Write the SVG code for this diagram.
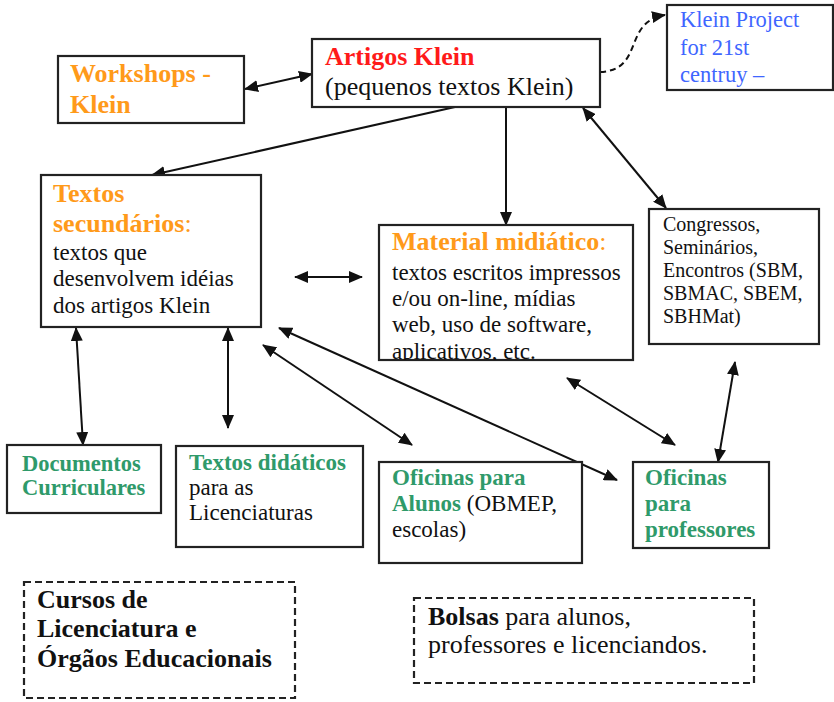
<svg xmlns="http://www.w3.org/2000/svg" width="834" height="702" viewBox="0 0 834 702">
<style>
.box{fill:#fff;stroke:#222;stroke-width:2.2}
.dbox{fill:#fff;stroke:#222;stroke-width:2.2;stroke-dasharray:7,4}
text{font-family:"Liberation Serif","Times New Roman",serif;fill:#111}
.h{font-size:26px;font-weight:bold}
.b{font-size:23px}
.s{font-size:20px}
.or{fill:#ff9a1a}
.red{fill:#ff1a1a}
.gr{fill:#2f9a6a;font-weight:bold}
.bl{fill:#3f66ff;font-size:22.5px}
.c{stroke:#111;stroke-width:2;fill:none}
</style>
<defs>
<marker id="ah" markerUnits="userSpaceOnUse" markerWidth="14" markerHeight="12" refX="13" refY="6" orient="auto-start-reverse">
<path d="M0,0 L14,6 L0,12 z" fill="#111"/>
</marker>
<clipPath id="mclip"><rect x="379" y="225" width="254" height="135"/></clipPath>
</defs>

<g id="connectors">
<line class="c" x1="245" y1="89" x2="312" y2="74" marker-start="url(#ah)" marker-end="url(#ah)"/>
<line class="c" x1="455" y1="107" x2="152" y2="175" marker-end="url(#ah)"/>
<line class="c" x1="506" y1="107" x2="506" y2="225" marker-end="url(#ah)"/>
<line class="c" x1="583" y1="108" x2="666" y2="208" marker-start="url(#ah)" marker-end="url(#ah)"/>
<path class="c" d="M600,72 C645,70 622,22 665,15" stroke-dasharray="6,4" marker-end="url(#ah)"/>
<line class="c" x1="295" y1="277" x2="362" y2="277" marker-start="url(#ah)" marker-end="url(#ah)"/>
<line class="c" x1="76" y1="328" x2="83" y2="445" marker-start="url(#ah)" marker-end="url(#ah)"/>
<line class="c" x1="228" y1="328" x2="228" y2="428" marker-start="url(#ah)" marker-end="url(#ah)"/>
<line class="c" x1="263" y1="345" x2="412" y2="445" marker-start="url(#ah)" marker-end="url(#ah)"/>
<line class="c" x1="279" y1="328" x2="617" y2="480" marker-start="url(#ah)" marker-end="url(#ah)"/>
<line class="c" x1="567" y1="378" x2="675" y2="445" marker-start="url(#ah)" marker-end="url(#ah)"/>
<line class="c" x1="735" y1="362" x2="718" y2="462" marker-start="url(#ah)" marker-end="url(#ah)"/>
</g>

<g id="workshops">
<rect class="box" x="58" y="56" width="186" height="67"/>
<text class="h or" x="70" y="82">Workshops -</text>
<text class="h or" x="70" y="113">Klein</text>
</g>

<g id="artigos">
<rect class="box" x="312" y="39" width="288" height="68"/>
<text class="h red" x="325" y="65">Artigos Klein</text>
<text x="325" y="95" style="font-size:26px">(pequenos textos Klein)</text>
</g>

<g id="klein-project">
<rect class="box" x="667" y="5" width="166" height="85"/>
<text class="bl" x="680" y="27">Klein Project</text>
<text class="bl" x="680" y="55">for 21st</text>
<text class="bl" x="680" y="82">centruy –</text>
</g>

<g id="textos-secundarios">
<rect class="box" x="41" y="175" width="220" height="152"/>
<text class="h or" x="53" y="202">Textos</text>
<text class="h or" x="53" y="232">secundários<tspan style="font-weight:normal">:</tspan></text>
<text class="b" x="53" y="260">textos que</text>
<text class="b" x="53" y="286">desenvolvem idéias</text>
<text class="b" x="53" y="313">dos artigos Klein</text>
</g>

<g id="material">
<rect class="box" x="379" y="225" width="254" height="135"/>
<g clip-path="url(#mclip)">
<text class="h or" x="392" y="250">Material midiático<tspan style="font-weight:normal">:</tspan></text>
<text class="b" x="392" y="280">textos escritos impressos</text>
<text class="b" x="392" y="306">e/ou on-line, mídias</text>
<text class="b" x="392" y="332">web, uso de software,</text>
<text class="b" x="392" y="359">aplicativos, etc.</text>
</g>
</g>

<g id="congressos">
<rect class="box" x="649" y="209" width="170" height="135"/>
<text class="s" x="663" y="231">Congressos,</text>
<text class="s" x="663" y="254">Seminários,</text>
<text class="s" x="663" y="277">Encontros (SBM,</text>
<text class="s" x="663" y="300">SBMAC, SBEM,</text>
<text class="s" x="663" y="323">SBHMat)</text>
</g>

<g id="documentos">
<rect class="box" x="7" y="445" width="154" height="68"/>
<text class="gr" x="22" y="471" style="font-size:22.5px">Documentos</text>
<text class="gr" x="22" y="495" style="font-size:22.5px">Curriculares</text>
</g>

<g id="textos-didaticos">
<rect class="box" x="176" y="446" width="187" height="101"/>
<text class="b gr" x="189" y="470">Textos didáticos</text>
<text class="b" x="189" y="495">para as</text>
<text class="b" x="189" y="520">Licenciaturas</text>
</g>

<g id="oficinas-alunos">
<rect class="box" x="379" y="462" width="203" height="101"/>
<text class="b gr" x="392" y="485">Oficinas para</text>
<text class="b" x="392" y="511"><tspan class="gr">Alunos</tspan> (OBMEP,</text>
<text class="b" x="392" y="537">escolas)</text>
</g>

<g id="oficinas-professores">
<rect class="box" x="633" y="462" width="136" height="86"/>
<text class="b gr" x="645" y="485">Oficinas</text>
<text class="b gr" x="645" y="511">para</text>
<text class="b gr" x="645" y="537">professores</text>
</g>

<g id="cursos">
<rect class="dbox" x="24" y="582" width="271" height="116"/>
<text class="h" x="37" y="608">Cursos de</text>
<text class="h" x="37" y="637">Licenciatura e</text>
<text class="h" x="37" y="667">Órgãos Educacionais</text>
</g>

<g id="bolsas">
<rect class="dbox" x="414" y="598" width="340" height="85"/>
<text x="428" y="625" style="font-size:26px"><tspan font-weight="bold">Bolsas</tspan> para alunos,</text>
<text x="428" y="653" style="font-size:26px">professores e licenciandos.</text>
</g>
</svg>
